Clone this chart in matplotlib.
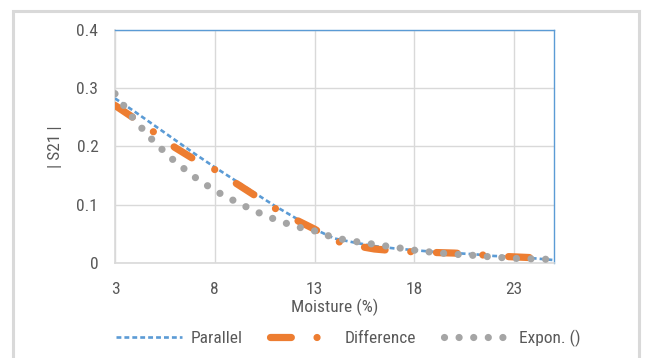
import matplotlib
matplotlib.use("Agg")
import matplotlib.pyplot as plt
from matplotlib import font_manager
from matplotlib.lines import Line2D
from matplotlib.patches import Rectangle

# ---- data ----
moisture = [3, 4, 5, 6, 7, 8, 9, 10, 11, 12, 13, 14, 15, 16, 17, 18, 19, 20, 21, 22, 23, 24, 25]
parallel = [0.282, 0.259, 0.235, 0.211, 0.187, 0.164, 0.142, 0.120, 0.098, 0.078, 0.058, 0.042,
            0.035, 0.029, 0.025, 0.022, 0.019, 0.017, 0.015, 0.012, 0.011, 0.008, 0.005]
difference = [0.270, 0.247, 0.223, 0.198, 0.177, 0.160, 0.138, 0.116, 0.094, 0.075, 0.058, 0.038,
              0.030, 0.024, 0.021, 0.019, 0.018, 0.017, 0.015, 0.012, 0.0105, 0.009, 0.0075]
expon = [0.290, 0.244, 0.206, 0.174, 0.147, 0.124, 0.106, 0.089, 0.075, 0.063, 0.055, 0.043,
         0.037, 0.032, 0.027, 0.022, 0.018, 0.015, 0.013, 0.010, 0.008, 0.007, 0.006]
x_ticks = [3, 8, 13, 18, 23]
y_ticks = [0, 0.1, 0.2, 0.3, 0.4]
y_tick_labels = ["0", "0.1", "0.2", "0.3", "0.4"]
series_names = ["Parallel", "Difference", "Expon. ()"]

# ---- font ----
available = {f.name for f in font_manager.fontManager.ttflist}
fam = "DejaVu Sans"
for cand in ["Liberation Sans Narrow", "Roboto Condensed", "Open Sans Condensed", "Roboto", "Open Sans"]:
    if cand in available:
        fam = cand
        break
plt.rcParams["font.family"] = [fam, "DejaVu Sans"]
plt.rcParams["lines.scale_dashes"] = False

txt = "#595959"
blue = "#5B9BD5"
orange = "#ED7D31"
gray = "#A5A5A5"
grid = "#D9D9D9"
fs = 12.5

W, H = 648, 358
fig = plt.figure(figsize=(W / 100, H / 100), dpi=100)
fig.patch.set_facecolor("white")

# outer chart frame
fig.add_artist(Rectangle((12.5 / W, -0.05), (639 - 12.5) / W, 1.05 - 10.5 / H,
                         transform=fig.transFigure, fill=False, edgecolor="#D9D9D9", lw=2.2))

left, right, top, bottom = 115, 554, 29.5, 263
ax = fig.add_axes([left / W, 1 - bottom / H, (right - left) / W, (bottom - top) / H])

ax.set_xlim(3, 25)
ax.set_ylim(0, 0.4)
ax.set_xticks(x_ticks)
ax.set_yticks(y_ticks)
ax.set_yticklabels(y_tick_labels)
ax.grid(True, color=grid, lw=1.0)
ax.set_axisbelow(True)
ax.tick_params(length=0, colors=txt, labelsize=fs)
ax.tick_params(axis="x", pad=14)
ax.tick_params(axis="y", pad=12)
for s in ["top", "right"]:
    ax.spines[s].set_color(blue)
    ax.spines[s].set_linewidth(1.0)
for s in ["left", "bottom"]:
    ax.spines[s].set_color(grid)
    ax.spines[s].set_linewidth(1.2)

p_style = dict(color=blue, lw=1.9, linestyle=(0, (3.5, 2.2)), dash_capstyle="butt")
d_style = dict(color=orange, lw=5.2, linestyle=(0, (15, 18.5, 0.01, 18.5)),
               dash_capstyle="round", solid_capstyle="round")
e_style = dict(color=gray, lw=5.2, linestyle=(0, (0.01, 10.5)), dash_capstyle="round")

ax.plot(moisture, parallel, zorder=3, **p_style)
ax.plot(moisture, difference, zorder=4, **d_style)
ax.plot(moisture, expon, zorder=5, **e_style)

ax.set_xlabel("Moisture (%)", color=txt, fontsize=fs, labelpad=1)
ax.set_ylabel("| S21 |", color=txt, fontsize=fs, labelpad=10)

handles = [Line2D([], [], **p_style), Line2D([], [], **d_style), Line2D([], [], **e_style)]
leg = fig.legend(handles, series_names, loc="center", bbox_to_anchor=(348 / W, 1 - 338 / H),
                 ncol=3, frameon=False, fontsize=fs, handlelength=3.8, handletextpad=0.5,
                 columnspacing=1.6, labelcolor=txt)

fig.savefig("out.png", dpi=100, facecolor="white")
